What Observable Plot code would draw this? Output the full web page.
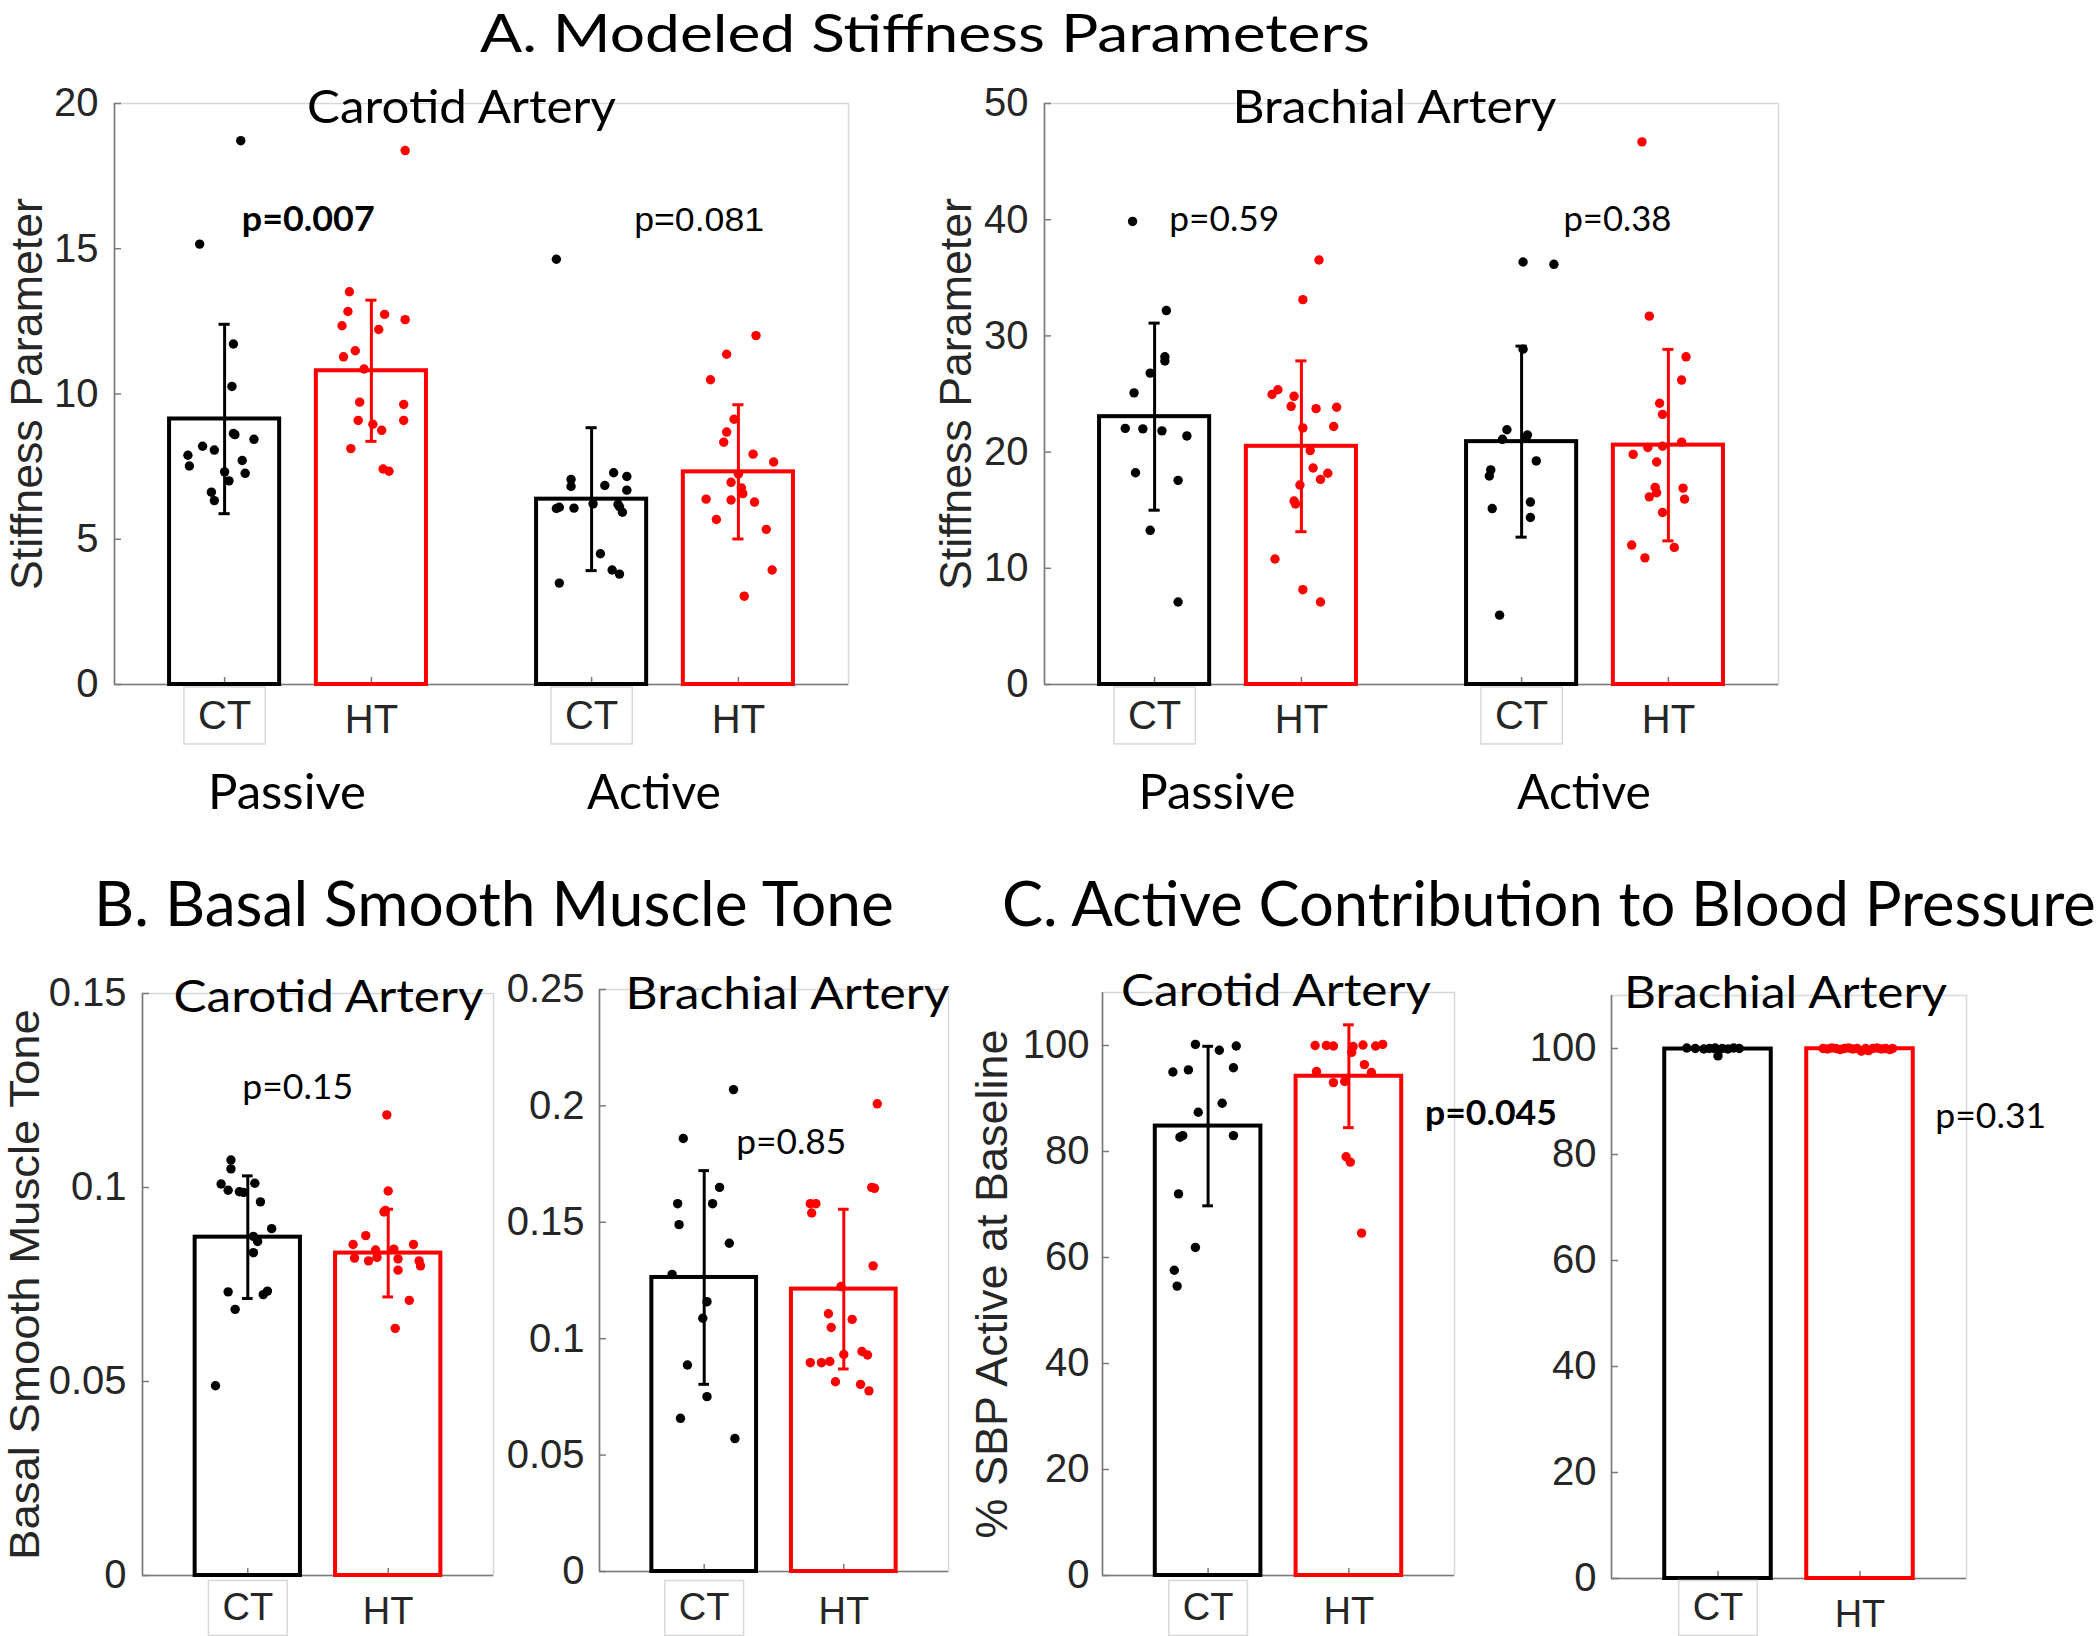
<!DOCTYPE html>
<html>
<head>
<meta charset="utf-8">
<script src="https://cdn.jsdelivr.net/npm/d3@7"></script>
<script src="https://cdn.jsdelivr.net/npm/@observablehq/plot@0.6"></script>
<style>
html, body { margin: 0; padding: 0; background: #fff; }
#fig { position: relative; width: 2100px; height: 1636px; overflow: hidden; background: #fff; }
#fig svg { position: absolute; overflow: visible; }
</style>
</head>
<body>
<div id="fig"></div>
<script>
// ---------------- DATA ----------------
const sectionTitles = ["A. Modeled Stiffness Parameters", "B. Basal Smooth Muscle Tone", "C. Active Contribution to Blood Pressure"];
const arteries = ["Carotid Artery", "Brachial Artery"];
const groupsA = ["Passive", "Active"];
const members = ["CT", "HT"];
const yLabels = ["Stiffness Parameter", "Basal Smooth Muscle Tone", "% SBP Active at Baseline"];

// A. Carotid (bars: Passive CT, Passive HT, Active CT, Active HT)
const aCarTicks = [0, 5, 10, 15, 20];
const aCarTickLabels = ["0", "5", "10", "15", "20"];
const aCarMean = [9.14, 10.8, 6.38, 7.32];
const aCarSD = [3.26, 2.43, 2.46, 2.31];
const aCarP = ["p=0.007", "p=0.081"];
const aCarValues = [
  [18.72, 15.16, 11.72, 10.26, 8.64, 8.60, 8.44, 8.20, 8.07, 7.89, 7.52, 7.71, 7.27, 7.32, 7.01, 6.62, 6.33],
  [18.38, 13.52, 12.84, 12.74, 12.56, 12.35, 12.22, 11.49, 11.28, 10.86, 9.72, 9.64, 9.09, 9.09, 8.96, 8.75, 8.12, 7.42, 7.34],
  [14.64, 7.06, 6.82, 7.29, 7.16, 6.85, 6.69, 6.22, 6.06, 6.10, 6.07, 6.20, 6.12, 5.93, 4.50, 3.94, 3.80, 3.49],
  [12.01, 11.37, 10.49, 9.13, 8.69, 8.34, 7.93, 7.66, 7.25, 6.96, 6.77, 6.57, 6.38, 6.35, 6.28, 5.68, 5.34, 3.94, 3.04]
];
const aCarJitter = [
  [0.11, -0.17, 0.06, 0.05, 0.06, 0.07, 0.20, -0.15, -0.07, -0.25, -0.24, 0.12, 0.14, 0.00, 0.03, -0.09, -0.07],
  [0.23, -0.15, -0.16, 0.09, 0.23, -0.20, 0.05, -0.11, -0.19, -0.05, -0.08, 0.22, -0.09, 0.22, 0.01, 0.07, -0.14, 0.08, 0.12],
  [-0.24, -0.14, -0.14, 0.15, 0.24, 0.09, 0.24, 0.01, -0.24, -0.22, -0.12, 0.18, 0.19, 0.21, 0.06, 0.14, 0.19, -0.22],
  [0.12, -0.08, -0.19, -0.03, -0.08, -0.10, 0.10, 0.24, 0.00, -0.05, 0.02, 0.03, -0.22, -0.05, 0.11, -0.15, 0.19, 0.23, 0.04]
];

// A. Brachial
const aBraTicks = [0, 10, 20, 30, 40, 50];
const aBraTickLabels = ["0", "10", "20", "30", "40", "50"];
const aBraMean = [23.05, 20.5, 20.9, 20.6];
const aBraSD = [8.05, 7.35, 8.22, 8.24];
const aBraP = ["p=0.59", "p=0.38"];
const aBraValues = [
  [39.85, 32.18, 28.2, 27.84, 26.8, 25.1, 22.04, 22.0, 21.83, 21.39, 18.22, 17.57, 13.27, 7.1],
  [36.53, 33.12, 25.37, 24.96, 24.8, 23.94, 23.74, 23.86, 22.2, 22.08, 20.13, 18.63, 18.18, 17.65, 17.17, 15.79, 15.54, 10.8, 8.16, 7.1],
  [36.36, 36.16, 28.86, 21.92, 21.1, 21.47, 21.23, 19.24, 18.47, 17.94, 15.7, 15.14, 14.37, 5.97],
  [46.7, 31.7, 28.2, 26.2, 24.2, 23.25, 20.4, 20.5, 20.86, 19.8, 19.15, 16.96, 16.5, 16.9, 16.15, 15.95, 14.8, 12.0, 11.8, 10.9]
];
const aBraJitter = [
  [-0.15, 0.08, 0.07, 0.07, -0.03, -0.14, -0.20, -0.08, 0.05, 0.22, -0.13, 0.16, -0.03, 0.16],
  [0.12, 0.01, -0.16, -0.20, -0.05, -0.07, 0.10, 0.24, 0.22, 0.01, 0.06, 0.08, 0.18, 0.13, -0.01, -0.05, -0.04, -0.18, 0.01, 0.13],
  [0.01, 0.22, 0.01, -0.10, -0.13, 0.04, 0.03, 0.10, -0.21, -0.22, 0.06, -0.20, 0.06, -0.15],
  [-0.18, -0.13, 0.12, 0.09, -0.06, -0.04, -0.14, -0.04, 0.09, -0.24, -0.08, -0.09, -0.08, 0.10, -0.13, 0.11, -0.04, -0.25, 0.04, -0.16]
];

// B. Basal smooth muscle tone (bars: CT, HT)
const bCarTicks = [0, 0.05, 0.1, 0.15];
const bCarTickLabels = ["0", "0.05", "0.1", "0.15"];
const bCarMean = [0.0872, 0.0831];
const bCarSD = [0.0158, 0.0113];
const bCarP = ["p=0.15"];
const bCarValues = [
  [0.1071, 0.1048, 0.1009, 0.0993, 0.0989, 0.0987, 0.1011, 0.0963, 0.0894, 0.0874, 0.0861, 0.0832, 0.0731, 0.0724, 0.0733, 0.0686, 0.0489],
  [0.1187, 0.0991, 0.0937, 0.0941, 0.0876, 0.0853, 0.0853, 0.0839, 0.0841, 0.0818, 0.0811, 0.0820, 0.0816, 0.0787, 0.0811, 0.0798, 0.0709, 0.0637]
];
const bCarJitter = [
  [-0.12, -0.12, -0.19, -0.14, -0.06, -0.03, 0.05, 0.09, 0.17, 0.04, 0.07, 0.04, -0.14, 0.11, 0.14, -0.09, -0.23],
  [-0.01, 0.00, -0.03, -0.02, -0.16, -0.25, 0.18, -0.09, 0.04, -0.24, -0.14, -0.08, 0.07, 0.07, 0.22, 0.23, 0.15, 0.05]
];

const bBraTicks = [0, 0.05, 0.1, 0.15, 0.2, 0.25];
const bBraTickLabels = ["0", "0.05", "0.1", "0.15", "0.2", "0.25"];
const bBraMean = [0.1263, 0.1213];
const bBraSD = [0.0459, 0.0343];
const bBraP = ["p=0.85"];
const bBraValues = [
  [0.207, 0.186, 0.165, 0.158, 0.158, 0.149, 0.141, 0.1276, 0.1159, 0.1088, 0.0887, 0.0751, 0.0658, 0.0571],
  [0.2009, 0.165, 0.1646, 0.158, 0.158, 0.154, 0.1313, 0.1224, 0.1107, 0.1083, 0.1048, 0.0945, 0.093, 0.0932, 0.0897, 0.0897, 0.0902, 0.0815, 0.0804, 0.0776]
];
const bBraJitter = [
  [0.21, -0.15, 0.11, -0.19, 0.06, -0.18, 0.18, -0.23, 0.02, -0.01, -0.12, 0.02, -0.17, 0.22],
  [0.24, 0.20, 0.22, -0.24, -0.20, -0.23, 0.21, -0.02, -0.11, 0.06, -0.09, 0.13, 0.17, 0.00, -0.24, -0.16, -0.10, -0.06, 0.12, 0.18]
];

// C. Active contribution to blood pressure
const cTicks = [0, 20, 40, 60, 80, 100];
const cTickLabels = ["0", "20", "40", "60", "80", "100"];
const cCarMean = [84.8, 94.2];
const cCarSD = [15.05, 9.7];
const cCarP = ["p=0.045"];
const cCarValues = [
  [100.2, 99.9, 99.1, 95.8, 95.0, 95.4, 89.1, 87.4, 82.7, 83.0, 83.0, 72.0, 61.9, 57.6, 54.6],
  [100, 100, 99.9, 99.8, 100.1, 99.9, 100.2, 98.7, 96.4, 95.1, 94.9, 93.0, 93.2, 79.0, 78.0, 64.6]
];
const cCarJitter = [
  [-0.09, 0.20, 0.08, 0.18, -0.25, -0.14, 0.10, -0.07, -0.20, -0.18, 0.18, -0.21, -0.09, -0.24, -0.22],
  [-0.24, -0.16, -0.11, 0.03, 0.10, 0.19, 0.24, 0.02, 0.11, -0.23, 0.16, -0.11, -0.03, -0.02, 0.01, 0.09]
];

const cBraMean = [99.9, 99.95];
const cBraSD = [0.45, 0.15];
const cBraP = ["p=0.31"];
const cBraValues = [
  [100.1, 100, 99.9, 100, 100.1, 98.6, 100, 99.9, 100.1, 100],
  [100, 99.9, 100.1, 100, 99.8, 100, 100.1, 99.9, 100, 99.5, 100, 99.6, 100, 100.1, 99.9, 100, 99.8, 100]
];
const cBraJitter = [
  [-0.22, -0.16, -0.10, -0.06, -0.02, 0.00, 0.03, 0.07, 0.11, 0.15],
  [-0.26, -0.23, -0.20, -0.17, -0.14, -0.11, -0.08, -0.05, -0.02, 0.01, 0.04, 0.06, 0.09, 0.12, 0.15, 0.18, 0.21, 0.23]
];

// ---------------- STYLE / LAYOUT ----------------
const ARIAL = "'Liberation Sans', Arial, Helvetica, sans-serif";
const CAL = "Lato, 'Open Sans', sans-serif";
const memberColors = ["#000000", "#ff0000"];
const GRAY = "#7a7a7a", LIGHT = "#d8d8d8", TXT = "#262626";
const BAR_HALF = 0.375, CAP = 0.038;

const panels = [
  { frame: [114, 103, 848, 684], xDomain: [0.25, 5.25], yDomain: [0, 20], yTicks: aCarTicks, yTickLabels: aCarTickLabels,
    groups: groupsA, means: aCarMean, sds: aCarSD, values: aCarValues, jitter: aCarJitter,
    ylab: yLabels[0], ylabDx: -87, ylabFont: 45, title: arteries[0], titleDx: -20, titleDy: 19, titleFont: 47,
    tickPad: 16, xFont: 40, ctDy: 16, htDy: 20,
    pvals: [{ text: aCarP[0], x: 1.117, y: 16, bold: true, font: CAL }, { text: aCarP[1], x: 3.79, y: 16, font: ARIAL }],
    fit: { "Carotid Artery": 309, "p=0.007": 133, "p=0.081": 130, "Stiffness Parameter": 392, "Passive": 158, "Active": 134 } },
  { frame: [1044, 103, 1778, 684], xDomain: [0.25, 5.25], yDomain: [0, 50], yTicks: aBraTicks, yTickLabels: aBraTickLabels,
    groups: groupsA, means: aBraMean, sds: aBraSD, values: aBraValues, jitter: aBraJitter,
    ylab: yLabels[0], ylabDx: -88, ylabFont: 45, title: arteries[1], titleDx: -17, titleDy: 19, titleFont: 47,
    tickPad: 16, xFont: 40, ctDy: 16, htDy: 20,
    pvals: [{ text: aBraP[0], x: 1.10, y: 40, font: CAL }, { text: aBraP[1], x: 3.785, y: 40, font: CAL }],
    fit: { "Brachial Artery": 324, "p=0.59": 110, "p=0.38": 108, "Stiffness Parameter": 392, "Passive": 157, "Active": 134 } },
  { frame: [142, 993, 493, 1575], xDomain: [0.25, 2.75], yDomain: [0, 0.15], yTicks: bCarTicks, yTickLabels: bCarTickLabels,
    means: bCarMean, sds: bCarSD, values: bCarValues, jitter: bCarJitter,
    ylab: yLabels[1], ylabDx: -117, ylabFont: 42, title: arteries[0], titleDx: 10.5, titleDy: 18, titleFont: 45,
    tickPad: 16, xFont: 38, ctDy: 18, htDy: 22,
    pvals: [{ text: bCarP[0], x: 0.96, y: 0.1255, font: CAL }],
    fit: { "Carotid Artery": 310, "p=0.15": 111, "Basal Smooth Muscle Tone": 551 } },
  { frame: [599, 989, 948, 1571], xDomain: [0.25, 2.75], yDomain: [0, 0.25], yTicks: bBraTicks, yTickLabels: bBraTickLabels,
    means: bBraMean, sds: bBraSD, values: bBraValues, jitter: bBraJitter,
    title: arteries[1], titleDx: 13.5, titleDy: 19, titleFont: 45,
    tickPad: 15, xFont: 38, ctDy: 22, htDy: 26,
    pvals: [{ text: bBraP[0], x: 1.23, y: 0.184, font: CAL }],
    fit: { "Brachial Artery": 324, "p=0.85": 110 } },
  { frame: [1102, 992, 1454, 1575], xDomain: [0.25, 2.75], yDomain: [0, 110], yTicks: cTicks, yTickLabels: cTickLabels,
    means: cCarMean, sds: cCarSD, values: cCarValues, jitter: cCarJitter,
    ylab: yLabels[2], ylabDx: -110, ylabFont: 45, title: arteries[0], titleDx: -2.5, titleDy: 13, titleFont: 45,
    tickPad: 13, xFont: 38, ctDy: 18, htDy: 22,
    pvals: [{ text: cCarP[0], x: 2.54, y: 87, bold: true, font: CAL }],
    fit: { "Carotid Artery": 310, "p=0.045": 132, "% SBP Active at Baseline": 509 } },
  { frame: [1611, 995, 1966, 1578], xDomain: [0.25, 2.75], yDomain: [0, 110], yTicks: cTicks, yTickLabels: cTickLabels,
    means: cBraMean, sds: cBraSD, values: cBraValues, jitter: cBraJitter,
    title: arteries[1], titleDx: -3.5, titleDy: 12, titleFont: 45,
    tickPad: 15, xFont: 38, ctDy: 15, htDy: 22,
    pvals: [{ text: cBraP[0], x: 2.53, y: 87, font: CAL }],
    fit: { "Brachial Artery": 323, "p=0.31": 111 } }
];

const fig = document.getElementById("fig");

function fitText(t, target) {
  const bb = t.getBBox();
  if (!bb.width) return;
  const s = target / bb.width;
  const anchor = getComputedStyle(t).textAnchor;
  const ax = anchor === "middle" ? bb.x + bb.width / 2 : anchor === "end" ? bb.x + bb.width : bb.x;
  const tr = t.getAttribute("transform") || "";
  t.setAttribute("transform", `${tr} translate(${ax},0) scale(${s},1) translate(${-ax},0)`);
}

function makePanel(cfg) {
  const [L, T, R, B] = cfg.frame;
  const W = R - L, H = B - T;
  const mL = 170, mR = 160, mT = 80, mB = 150;
  const bars = cfg.means.map((m, i) => {
    const g = Math.floor(i / 2), k = i % 2;
    return { x: 1 + g * 2.5 + k, m, sd: cfg.sds[i], c: memberColors[k], label: members[k] };
  });
  const pts = [];
  cfg.values.forEach((vs, i) => vs.forEach((v, j) => pts.push({ x: bars[i].x + cfg.jitter[i][j], y: v, c: bars[i].c })));
  const tickLabel = new Map(cfg.yTicks.map((t, i) => [t, cfg.yTickLabels[i]]));

  const marks = [
    Plot.frame({ stroke: LIGHT, strokeWidth: 1.5 }),
    Plot.ruleX([cfg.xDomain[0]], { stroke: GRAY, strokeWidth: 1.6 }),
    Plot.ruleY([cfg.yDomain[0]], { stroke: GRAY, strokeWidth: 1.6 }),
    Plot.tickY(cfg.yTicks, { y: d => d, stroke: GRAY, strokeWidth: 1.5, insetRight: W - 7 }),
    Plot.tickX(bars, { x: "x", stroke: GRAY, strokeWidth: 1.5, insetTop: H - 7 }),
    Plot.axisY({ ticks: cfg.yTicks, tickFormat: d => tickLabel.get(d), tickSize: 0, tickPadding: cfg.tickPad,
      fontSize: 40, fill: TXT, label: null }),
    Plot.rect(bars, { x1: d => d.x - BAR_HALF, x2: d => d.x + BAR_HALF, y1: 0, y2: "m", fill: "none", stroke: "c", strokeWidth: 4 }),
    Plot.ruleX(bars, { x: "x", y1: d => d.m - d.sd, y2: d => d.m + d.sd, stroke: "c", strokeWidth: 3 }),
    Plot.ruleY(bars, { y: d => d.m + d.sd, x1: d => d.x - CAP, x2: d => d.x + CAP, stroke: "c", strokeWidth: 3 }),
    Plot.ruleY(bars, { y: d => d.m - d.sd, x1: d => d.x - CAP, x2: d => d.x + CAP, stroke: "c", strokeWidth: 3 }),
    Plot.dot(pts, { x: "x", y: "y", r: 4.7, fill: "c", stroke: "none" }),
    Plot.text(bars.filter(d => d.label === "CT"), { x: "x", text: "label", frameAnchor: "bottom", lineAnchor: "top",
      dy: cfg.ctDy, fontSize: cfg.xFont, fill: TXT }),
    Plot.text(bars.filter(d => d.label === "HT"), { x: "x", text: "label", frameAnchor: "bottom", lineAnchor: "top",
      dy: cfg.htDy, fontSize: cfg.xFont, fill: TXT }),
    Plot.text([cfg.title], { text: d => d, frameAnchor: "top", lineAnchor: "bottom", dx: cfg.titleDx, dy: cfg.titleDy,
      fontSize: cfg.titleFont, fontFamily: CAL, fill: "#000" })
  ];
  if (cfg.ylab) {
    marks.push(Plot.text([cfg.ylab], { text: d => d, frameAnchor: "left", rotate: -90, dx: cfg.ylabDx,
      textAnchor: "middle", lineAnchor: "middle", fontSize: cfg.ylabFont, fill: TXT }));
  }
  if (cfg.groups) {
    marks.push(Plot.text(cfg.groups, { x: (d, i) => 1.5 + i * 2.5, text: d => d, frameAnchor: "bottom", lineAnchor: "bottom",
      dy: 124, dx: -11, fontSize: 49, fontFamily: CAL, fill: "#000" }));
  }
  for (const p of cfg.pvals) {
    marks.push(Plot.text([p], { x: "x", y: "y", text: "text", textAnchor: "start", lineAnchor: "middle",
      fontSize: 34, fontFamily: p.font, fontWeight: p.bold ? "bold" : "normal", fill: "#000" }));
  }

  const svg = Plot.plot({
    width: W + mL + mR, height: H + mT + mB,
    marginLeft: mL, marginRight: mR, marginTop: mT, marginBottom: mB,
    x: { domain: cfg.xDomain, axis: null },
    y: { domain: cfg.yDomain },
    color: { type: "identity" },
    style: { background: "transparent", overflow: "visible", fontFamily: ARIAL, color: TXT },
    marks
  });
  svg.style.left = (L - mL) + "px";
  svg.style.top = (T - mT) + "px";
  fig.appendChild(svg);

  svg.querySelectorAll("text").forEach(t => {
    const s = t.textContent;
    if (cfg.fit[s] !== undefined) fitText(t, cfg.fit[s]);
    if (s === "CT") {
      const bb = t.getBBox();
      const r = document.createElementNS("http://www.w3.org/2000/svg", "rect");
      r.setAttribute("x", bb.x - 14);
      r.setAttribute("y", bb.y - 6);
      r.setAttribute("width", bb.width + 28);
      r.setAttribute("height", bb.height + 13);
      r.setAttribute("fill", "none");
      r.setAttribute("stroke", LIGHT);
      r.setAttribute("stroke-width", 1.5);
      const tr = t.getAttribute("transform");
      if (tr) r.setAttribute("transform", tr);
      t.parentNode.insertBefore(r, t);
    }
  });
}

panels.forEach(makePanel);

// Section titles
const overlay = d3.create("svg").attr("width", 2100).attr("height", 1636)
  .style("left", "0px").style("top", "0px");
const titleSpecs = [
  { text: sectionTitles[0], x: 480, y: 52, size: 52, w: 890 },
  { text: sectionTitles[1], x: 94, y: 926, size: 62, w: 800 },
  { text: sectionTitles[2], x: 1002, y: 926, size: 62, w: 1094 }
];
titleSpecs.forEach(s => {
  overlay.append("text").attr("x", s.x).attr("y", s.y).attr("font-family", CAL).attr("font-size", s.size)
    .attr("fill", "#000").attr("text-anchor", "start").text(s.text);
});
fig.appendChild(overlay.node());
overlay.selectAll("text").each(function (d, i) { fitText(this, titleSpecs[i].w); });
</script>
</body>
</html>
